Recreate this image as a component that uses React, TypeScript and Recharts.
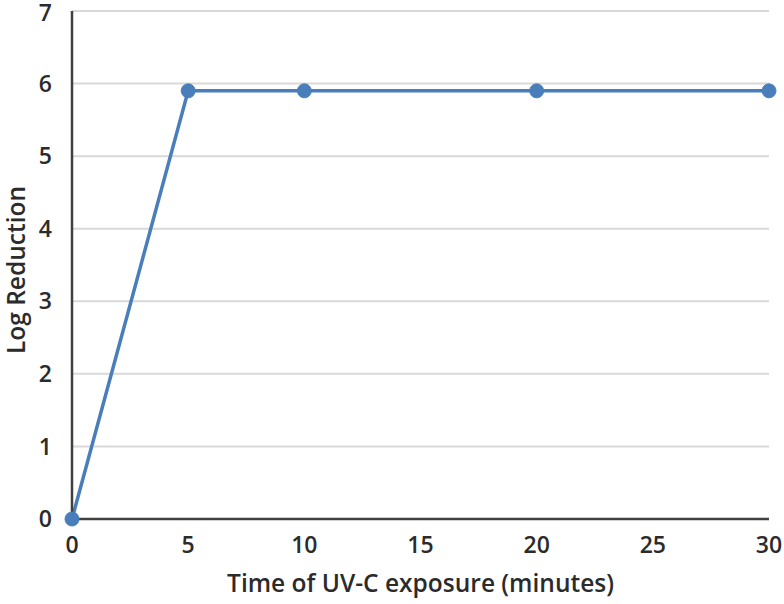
import React from "react";
import {
    LineChart,
    Line,
    XAxis,
    YAxis,
    CartesianGrid,
    Label
} from "recharts";

const minutes = [0, 5, 10, 20, 30];
const logReduction = [0, 5.9, 5.9, 5.9, 5.9];
const xTicks = [0, 5, 10, 15, 20, 25, 30];
const yTicks = [0, 1, 2, 3, 4, 5, 6, 7];

const data = minutes.map((m, i) => ({ time: m, value: logReduction[i] }));

const font = "'Open Sans', 'DejaVu Sans', sans-serif";
const textFill = "#2b2b2b";
const tickStyle = { fill: textFill, fontSize: 23, fontWeight: 600, fontFamily: font };
const titleStyle = { ...tickStyle, fontSize: 24.5 };

const YTitle = () => (
    <text
        x={25}
        y={270}
        transform="rotate(-90 25 270)"
        textAnchor="middle"
        fill={textFill}
        fontSize={24.5}
        fontWeight={600}
        fontFamily={font}
    >
        Log Reduction
    </text>
);

const App = () => {
    return (
        <div style={{ position: "absolute", left: 0, top: 0, background: "#fff" }}>
            <LineChart
                width={784}
                height={604}
                data={data}
                margin={{ top: 11, right: 15, bottom: 0, left: 0 }}
            >
                <CartesianGrid horizontal={true} vertical={false} stroke="#d9d9d9" strokeWidth={2} />
                <XAxis
                    dataKey="time"
                    type="number"
                    domain={[0, 30]}
                    ticks={xTicks}
                    height={85}
                    tickLine={false}
                    axisLine={{ stroke: "#404040", strokeWidth: 2.5 }}
                    tick={tickStyle}
                    tickMargin={12}
                >
                    <Label
                        value="Time of UV-C exposure (minutes)"
                        position="insideBottom"
                        offset={12}
                        style={titleStyle}
                    />
                </XAxis>
                <YAxis
                    type="number"
                    domain={[0, 7]}
                    ticks={yTicks}
                    width={72}
                    tickLine={false}
                    axisLine={{ stroke: "#404040", strokeWidth: 2.5 }}
                    tick={tickStyle}
                    tickMargin={14}
                >
                    <Label content={<YTitle />} />
                </YAxis>
                <Line
                    dataKey="value"
                    stroke="#4a7ebb"
                    strokeWidth={3.5}
                    dot={{ r: 7, fill: "#4a7ebb", stroke: "#4a7ebb", strokeWidth: 1 }}
                    isAnimationActive={false}
                />
            </LineChart>
        </div>
    );
};

export default App;
